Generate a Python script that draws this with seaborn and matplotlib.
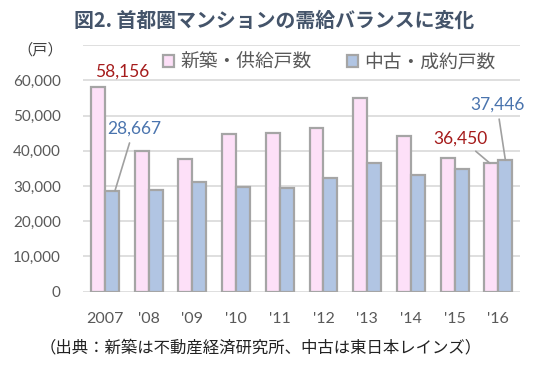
import pandas as pd
import matplotlib.pyplot as plt
import seaborn as sns

years = ['2007', "'08", "'09", "'10", "'11", "'12", "'13", "'14", "'15", "'16"]
new_supply = [58156, 40000, 37700, 44900, 45100, 46600, 55000, 44200, 38100, 36450]
used_sales = [28667, 28800, 31250, 29800, 29550, 32400, 36650, 33150, 34850, 37446]
series_names = ['新築・供給戸数', '中古・成約戸数']

sns.set_theme(style='white')
plt.rcParams['font.family'] = ['Noto Sans CJK JP', 'DejaVu Sans']

df = pd.DataFrame({
    'year': years * 2,
    'units': new_supply + used_sales,
    'series': [series_names[0]] * len(years) + [series_names[1]] * len(years),
})

fig = plt.figure(figsize=(5.43, 3.71), dpi=100)
ax = fig.add_axes([0.153, 0.214, 0.805, 0.664])

palette = {series_names[0]: '#FDE0F8', series_names[1]: '#B1C5E3'}
sns.barplot(data=df, x='year', y='units', hue='series', palette=palette,
            width=0.64, edgecolor='#A5A5A5', linewidth=1.6, saturation=1,
            ax=ax, legend=True)

ax.set_ylim(0, 70000)
ax.set_yticks(range(0, 70001, 10000))
ax.set_yticklabels([f'{v:,}' for v in range(0, 60001, 10000)] + [''],
                   fontsize=11, color='#595959', family=['Lato', 'DejaVu Sans'])
ax.set_xticks(range(len(years)))
ax.set_xticklabels(years, fontsize=11.5, color='#595959', family=['Lato', 'DejaVu Sans'])
ax.tick_params(length=0)
ax.tick_params(axis='x', pad=15)
ax.tick_params(axis='y', pad=16)
ax.set_xlabel('')
ax.set_ylabel('')
ax.grid(axis='y', color='#D9D9D9', linewidth=1.2)
ax.set_axisbelow(True)
for s in ax.spines.values():
    s.set_visible(False)
ax.set_xlim(-0.5, len(years) - 0.5)

# legend
handles, labels = ax.get_legend_handles_labels()
leg = ax.legend(handles, labels, loc='center', bbox_to_anchor=(0.563, 0.932),
                ncol=2, frameon=False, fontsize=13.5, handlelength=0.6,
                handleheight=0.6, handletextpad=0.3, columnspacing=1.9)
for t in leg.get_texts():
    t.set_color('#595959')

# data labels
red = '#A51B1B'
blue = '#4A74AE'
num_font = ['Lato', 'DejaVu Sans']
line = dict(arrowstyle='-', color='#A0A0A0', lw=1.2, shrinkA=2, shrinkB=0)
ax.annotate(f'{new_supply[0]:,}', xy=(-0.16, new_supply[0]), xytext=(0.39, 62400),
            ha='center', va='center', fontsize=12.5, color=red, family=num_font)
ax.annotate(f'{used_sales[0]:,}', xy=(0.23, used_sales[0]), xytext=(0.66, 46200),
            ha='center', va='center', fontsize=12.5, color=blue, family=num_font,
            arrowprops=line, zorder=10)
ax.annotate(f'{new_supply[-1]:,}', xy=(8.81, new_supply[-1]), xytext=(8.13, 43600),
            ha='center', va='center', fontsize=12.5, color=red, family=num_font,
            arrowprops=line, zorder=10)
ax.annotate(f'{used_sales[-1]:,}', xy=(9.16, used_sales[-1]), xytext=(8.97, 53000),
            ha='center', va='center', fontsize=12.5, color=blue, family=num_font,
            arrowprops=line, zorder=10)

fig.text(0.505, 0.945, '図2. 首都圏マンションの需給バランスに変化', ha='center', va='center',
         fontsize=14.3, fontweight='bold', color='#44546A')
fig.text(0.074, 0.865, '（戸）', ha='center', va='center', fontsize=11, color='#404040')
fig.text(0.481, 0.062, '（出典：新築は不動産経済研究所、中古は東日本レインズ）', ha='center',
         va='center', fontsize=11.8, color='#222222')

fig.savefig('out.png', dpi=100)
